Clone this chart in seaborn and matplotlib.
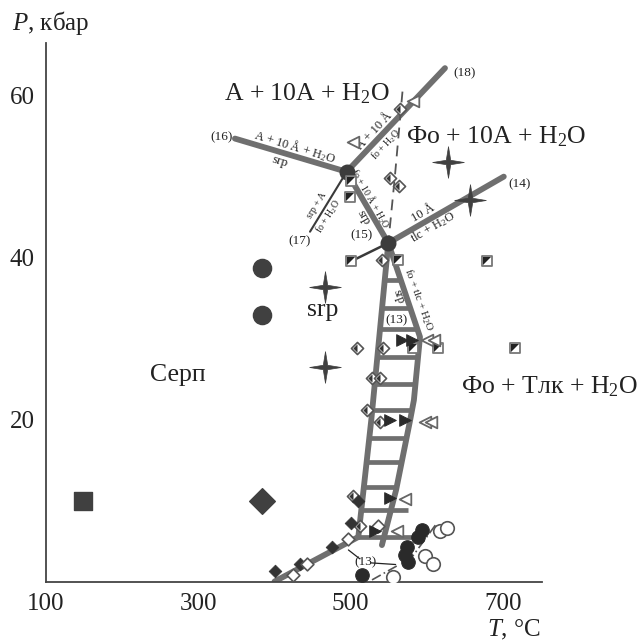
import numpy as np
import pandas as pd
import matplotlib
matplotlib.use("Agg")
import matplotlib.pyplot as plt
import seaborn as sns
from matplotlib.path import Path

# ---------------- data ----------------
x_ticks = [100, 200, 300, 400, 500, 600, 700]
x_labels = ["100", "", "300", "", "500", "", "700"]
y_ticks = [10, 20, 30, 40, 50, 60]
y_labels = ["", "20", "", "40", "", "60"]

# reaction lines (T, P)
line16_T = [348, 494.7]; line16_P = [54.7, 50.6]
line18_T = [494.7, 623.8]; line18_P = [50.6, 63.4]
lineAB_T = [494.7, 549.4]; lineAB_P = [50.6, 41.8]
line14_T = [549.4, 701]; line14_P = [41.8, 50.0]
line17_T = [494.7, 446.6]; line17_P = [50.6, 43.2]
lineB_T = [549.4, 506]; lineB_P = [41.8, 39.8]
dash_T = [568, 558, 549.4]; dash_P = [60.5, 50.0, 41.8]
low13_T = [400, 510]; low13_P = [0, 5.5]
dd1_T = [528, 562]; dd1_P = [0.2, 2.0]
dd2_T = [575, 613]; dd2_P = [2.3, 7.2]

# ladder boundaries
left_T = [549.4, 527, 510]; left_P = [41.8, 19.9, 5.5]
right_T = [549.4, 591, 583, 578, 559.6, 541]; right_P = [41.8, 30.2, 22.4, 19.9, 11.3, 4.5]
rung_P = [37.2, 33.8, 31.2, 27.7, 24.4, 21.2, 17.7, 14.8, 11.7]
ext_rung_P = [8.8, 5.5]; ext_rung_T = [575, 587]

# markers
big_sq_T = [149]; big_sq_P = [10.0]
big_dm_T = [384]; big_dm_P = [9.9]
big_ci_T = [384, 384]; big_ci_P = [38.7, 32.9]
star_T = [466, 466, 628, 657]; star_P = [36.4, 26.5, 51.8, 47.1]
hsq_T = [501, 499, 501, 562, 679, 582, 615, 716]
hsq_P = [49.4, 47.5, 39.6, 39.7, 39.6, 28.8, 28.8, 28.8]
hdm_T = [565, 552, 564, 541, 508, 542.5, 527.6, 538.5, 521, 538.5, 503.5, 511.7]
hdm_P = [58.4, 49.8, 48.8, 39.7, 28.8, 28.8, 25.1, 25.1, 21.2, 19.7, 10.5, 6.8]
fdm_T = [510, 501, 475, 433.5, 400.6]; fdm_P = [10.0, 7.2, 4.3, 2.2, 1.3]
odm_T = [535.6, 497, 442, 424.7]; odm_P = [6.8, 5.3, 2.2, 0.8]
ftr_T = [568, 580, 551.6, 571.3, 551.6, 531.6]; ftr_P = [29.8, 29.8, 19.9, 19.9, 10.3, 6.3]
otr_T = [600, 610, 582, 597.6, 606, 571, 560.4, 503]
otr_P = [29.8, 29.8, 59.3, 19.7, 19.7, 10.2, 6.3, 54.3]
fci_T = [514.5, 573.5, 571, 575.6, 593, 589]; fci_P = [0.8, 4.3, 3.3, 2.4, 6.4, 5.5]
oci_T = [556, 597.6, 608.5, 617.3, 626]; oci_P = [0.6, 3.1, 2.2, 6.2, 6.6]

# ---------------- style ----------------
sns.set_theme(style="white")
plt.rcParams["font.family"] = ["Liberation Serif", "DejaVu Serif"]
plt.rcParams["mathtext.fontset"] = "custom"
plt.rcParams["mathtext.rm"] = "Liberation Serif"
plt.rcParams["mathtext.it"] = "Liberation Serif:italic"

LINE = "#6f6f6f"
DARK = "#404040"
AX = "#444444"

fig = plt.figure(figsize=(6.41, 6.42), dpi=100)
ax = fig.add_axes([0.0718, 0.0942, 0.7733, 0.8388])

lw = 4.2
def ln(T, P, **kw):
    d = pd.DataFrame({"T": T, "P": P})
    sns.lineplot(data=d, x="T", y="P", sort=False, ax=ax, **kw)

ln(line16_T, line16_P, color=LINE, lw=lw)
ln(line18_T, line18_P, color=LINE, lw=lw)
ln(lineAB_T, lineAB_P, color=LINE, lw=lw)
ln(line14_T, line14_P, color=LINE, lw=lw)
ln(line17_T, line17_P, color="#3a3a3a", lw=1.5)
ln(lineB_T, lineB_P, color="#3a3a3a", lw=1.8)
ln(dash_T, dash_P, color="#555555", lw=1.3, linestyle=(0, (6, 4)))
ln(low13_T, low13_P, color=LINE, lw=lw)
ln(dd1_T, dd1_P, color="#555555", lw=1.2, linestyle=(0, (6, 2, 1, 2)))
ln(dd2_T, dd2_P, color="#555555", lw=1.2, linestyle=(0, (6, 2, 1, 2)))
ln(left_T, left_P, color=LINE, lw=lw)
ln(right_T, right_P, color=LINE, lw=lw)

lp = np.array(left_P)[::-1]; lt = np.array(left_T)[::-1]
rp = np.array(right_P)[::-1]; rt_ = np.array(right_T)[::-1]
for p in rung_P:
    ax.plot([np.interp(p, lp, lt), np.interp(p, rp, rt_)], [p, p], color=LINE, lw=3.4,
            solid_capstyle="butt")
for p, t in zip(ext_rung_P, ext_rung_T):
    ax.plot([np.interp(p, lp, lt), t], [p, p], color=LINE, lw=3.4, solid_capstyle="butt")

# triple points
ax.scatter([494.7, 549.4], [50.6, 41.8], s=110, color="#3c3c3c", zorder=5)

# custom markers
star = Path([(0, 1), (0.14, 0.14), (1, 0), (0.14, -0.14), (0, -1), (-0.14, -0.14),
             (-1, 0), (-0.14, 0.14), (0, 1)], closed=True)
tri_ul = Path([(-1, -1), (-1, 1), (1, 1), (-1, -1)], closed=True)
half_dl = Path([(0, 1), (-1, 0), (0, -1), (0, 1)], closed=True)

def sc(T, P, **kw):
    d = pd.DataFrame({"T": T, "P": P})
    sns.scatterplot(data=d, x="T", y="P", ax=ax, zorder=6, legend=False, **kw)

sc(big_sq_T, big_sq_P, marker="s", s=150, color=DARK, edgecolor=DARK)
sc(big_dm_T, big_dm_P, marker="D", s=170, color=DARK, edgecolor=DARK)
sc(big_ci_T, big_ci_P, marker="o", s=170, color=DARK, edgecolor=DARK)
sc(star_T, star_P, marker=star, s=520, color=DARK, edgecolor=DARK, linewidth=0.5)

sc(hsq_T, hsq_P, marker="s", s=55, color="white", edgecolor="#777777", linewidth=1.3)
sc(hsq_T, hsq_P, marker=tri_ul, s=30, color="#222222", edgecolor="#222222", linewidth=0)

sc(hdm_T, hdm_P, marker="D", s=38, color="white", edgecolor="#555555", linewidth=1.2)
sc(hdm_T, hdm_P, marker=half_dl, s=36, color="#333333", edgecolor="#333333", linewidth=0)
sc(fdm_T, fdm_P, marker="D", s=42, color="#333333", edgecolor="#333333")
sc(odm_T, odm_P, marker="D", s=42, color="white", edgecolor="#555555", linewidth=1.2)
sc(ftr_T, ftr_P, marker=">", s=70, color="#2a2a2a", edgecolor="#2a2a2a")
sc(otr_T, otr_P, marker="<", s=70, color="white", edgecolor="#666666", linewidth=1.3)
sc(fci_T, fci_P, marker="o", s=95, color="#2a2a2a", edgecolor="#2a2a2a")
sc(oci_T, oci_P, marker="o", s=95, color="white", edgecolor="#555555", linewidth=1.2)

# ---------------- axes ----------------
ax.set_xlim(100, 750.8)
ax.set_ylim(0, 66.5)
for s in ["top", "right"]:
    ax.spines[s].set_visible(False)
for s in ["left", "bottom"]:
    ax.spines[s].set_color(AX)
    ax.spines[s].set_linewidth(1.3)
ax.set_xticks(x_ticks, x_labels)
ax.set_yticks(y_ticks, y_labels)
ax.tick_params(direction="in", length=9, width=1.2, color=AX, labelsize=18,
               labelcolor="#222222", pad=8)
ax.set_xlabel("")
ax.set_ylabel("")

# ---------------- text ----------------
TXT = "#222222"
big = 18.5
ax.text(442, 60.3, "A + 10A + H$_2$O", fontsize=big, ha="center", va="center", color=TXT)
ax.text(691.6, 54.9, "Фо + 10A + H$_2$O", fontsize=big, ha="center", va="center", color=TXT)
ax.text(463.6, 33.5, "srp", fontsize=big, ha="center", va="center", color=TXT)
ax.text(273, 25.5, "Серп", fontsize=big, ha="center", va="center", color=TXT)
ax.text(761.6, 24.1, "Фо + Тлк + H$_2$O", fontsize=big, ha="center", va="center",
        color=TXT, clip_on=False)

sm = 9.5
ax.text(330.6, 54.9, "(16)", fontsize=sm, ha="center", va="center", color=TXT)
ax.text(650, 62.8, "(18)", fontsize=sm, ha="center", va="center", color=TXT)
ax.text(722, 49.0, "(14)", fontsize=sm, ha="center", va="center", color=TXT)
ax.text(433, 42.0, "(17)", fontsize=sm, ha="center", va="center", color=TXT)
ax.text(514, 42.8, "(15)", fontsize=sm, ha="center", va="center", color=TXT)
ax.text(559.6, 32.2, "(13)", fontsize=sm, ha="center", va="center", color=TXT)
ax.text(519, 2.4, "(13)", fontsize=sm, ha="center", va="center", color=TXT)
ax.plot([497, 512], [3.9, 2.8], color="#222222", lw=0.9)
ax.plot([527, 559], [2.3, 2.1], color="#222222", lw=0.9)

def rt(x, y, s, r, f=8):
    ax.text(x, y, s, fontsize=f, rotation=r, ha="center", va="center", color=TXT,
            rotation_mode="anchor")
rt(427, 53.7, "A + 10 Å + H$_2$O", -17, 9)
rt(407, 51.8, "srp", -17, 9.5)
rt(532, 55.6, "A + 10 Å", 47, 9)
rt(547, 54.0, "fo + H$_2$O", 47, 7)
rt(525, 47.3, "fo + 10 Å + H$_2$O", -60, 7)
rt(516.6, 44.9, "srp", -60, 9)
rt(455, 46.5, "srp + A", 58, 7)
rt(470.6, 45.1, "fo + H$_2$O", 58, 7)
rt(595, 45.5, "10 Å", 30, 9)
rt(608.5, 43.8, "tlc + H$_2$O", 30, 9)
rt(589, 34.8, "fo + tlc + H$_2$O", -70, 8)
rt(562.6, 35.2, "srp", -70, 8.5)

fig.text(12 / 641, 1 - 23 / 642, "$P$, кбар", fontsize=18, ha="left", va="center", color=TXT)
fig.text(541 / 641, 1 - 630 / 642, "$T$, °C", fontsize=18, ha="right", va="center", color=TXT)

fig.savefig("out.png", dpi=100)
